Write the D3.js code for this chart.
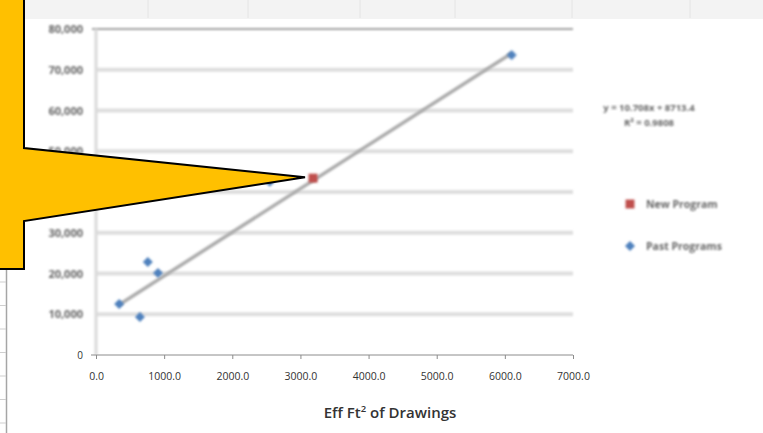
<!DOCTYPE html>
<html>
<head>
<meta charset="utf-8">
<script src="https://cdn.jsdelivr.net/npm/d3@7"></script>
<style>
  html, body { margin: 0; padding: 0; background: #fff; }
  svg { display: block; }
</style>
</head>
<body>
<svg id="chart" width="763" height="433"></svg>
<script>
// ---- data ----
const pastX = [340, 645, 760, 910, 2550, 6100];
const pastY = [12500, 9300, 22800, 20100, 42500, 73600];
const newX  = [3185];
const newY  = [43400];
const trendSlope = 10.708;
const trendIntercept = 8713.4;
const trendLabel = ["y = 10.708x + 8713.4", "R\u00b2 = 0.9808"];
const seriesNames = ["New Program", "Past Programs"];
const xTicks = [0, 1000, 2000, 3000, 4000, 5000, 6000, 7000];
const yTicks = [0, 10000, 20000, 30000, 40000, 50000, 60000, 70000, 80000];
const xTitle = "Eff Ft";

const colors = { past: "#4f81bd", fresh: "#c0504d", trend: "#acacac" };

const svg = d3.select("#chart");
const W = 763, H = 433;
const plot = { left: 96, right: 573, top: 29, bottom: 355 };

const defs = svg.append("defs");
defs.append("filter").attr("id", "soft").attr("x", "-20%").attr("y", "-20%").attr("width", "140%").attr("height", "140%")
  .append("feGaussianBlur").attr("stdDeviation", 0.8);
defs.append("filter").attr("id", "fuzzy").attr("x", "-20%").attr("y", "-50%").attr("width", "140%").attr("height", "200%")
  .append("feGaussianBlur").attr("stdDeviation", 1.3);

// spreadsheet bits behind the chart
svg.append("rect").attr("x", 0).attr("y", 0).attr("width", W).attr("height", 19).attr("fill", "#f3f3f3");
svg.append("line").attr("x1", 0).attr("x2", W).attr("y1", 19.5).attr("y2", 19.5)
  .attr("stroke", "#e2e2e2").attr("stroke-width", 3).attr("filter", "url(#soft)");
[148, 248, 360, 455, 572, 690].forEach(x => {
  svg.append("line").attr("x1", x).attr("x2", x).attr("y1", 0).attr("y2", 18)
    .attr("stroke", "#e4e4e4").attr("stroke-width", 1);
});
svg.append("line").attr("x1", 6.5).attr("x2", 6.5).attr("y1", 262).attr("y2", H)
  .attr("stroke", "#a6a6a6").attr("stroke-width", 1.5);
for (let r = 282; r < H; r += 23.5) {
  svg.append("line").attr("x1", 0).attr("x2", 6).attr("y1", r).attr("y2", r)
    .attr("stroke", "#cfcfcf").attr("stroke-width", 1);
}

// scales
const x = d3.scaleLinear().domain([0, 7000]).range([plot.left, plot.right]);
const y = d3.scaleLinear().domain([0, 80000]).range([plot.bottom, plot.top]);

// gridlines
const grid = svg.append("g").attr("filter", "url(#soft)");
grid.selectAll("line.grid")
  .data(yTicks.filter(d => d > 0 && d < 80000))
  .enter().append("line")
    .attr("x1", plot.left).attr("x2", plot.right)
    .attr("y1", d => y(d)).attr("y2", d => y(d))
    .attr("stroke", "#dedede").attr("stroke-width", 4);
grid.append("line")
  .attr("x1", plot.left - 4).attr("x2", plot.right)
  .attr("y1", y(80000)).attr("y2", y(80000))
  .attr("stroke", "#a3a3a3").attr("stroke-width", 2);
grid.append("line")
  .attr("x1", plot.left).attr("x2", plot.left)
  .attr("y1", plot.top).attr("y2", plot.bottom)
  .attr("stroke", "#dadada").attr("stroke-width", 3);

// y-axis labels (blurry in the source)
const yLab = svg.append("g").attr("filter", "url(#fuzzy)");
yLab.selectAll("text")
  .data(yTicks.filter(d => d > 0))
  .enter().append("text")
    .attr("x", 83).attr("y", d => y(d) + 4)
    .attr("text-anchor", "end")
    .attr("font-family", "Open Sans, sans-serif")
    .attr("font-size", 11).attr("font-weight", 700)
    .attr("fill", "#666")
    .text(d => d3.format(",")(d));
svg.append("text")
  .attr("x", 83).attr("y", y(0) + 4)
  .attr("text-anchor", "end")
  .attr("font-family", "Open Sans, sans-serif").attr("font-size", 10)
  .attr("fill", "#333").text("0");

// x-axis
const xAxis = d3.axisBottom(x).tickValues(xTicks).tickSize(4).tickFormat(d3.format(".1f"));
const xg = svg.append("g")
  .attr("transform", "translate(0," + plot.bottom + ")")
  .call(xAxis);
xg.select(".domain").attr("stroke", "#8c8c8c").attr("d", "M" + (plot.left - 5) + ",0H" + plot.right);
xg.selectAll(".tick line").attr("stroke", "#8c8c8c");
xg.selectAll(".tick text")
  .attr("dy", 0).attr("y", 25)
  .attr("font-family", "Open Sans, sans-serif").attr("font-size", 10.5)
  .attr("fill", "#333");

// x-axis title
const title = svg.append("text")
  .attr("x", 390).attr("y", 418)
  .attr("text-anchor", "middle")
  .attr("font-family", "Open Sans, sans-serif")
  .attr("font-size", 15).attr("font-weight", 600)
  .attr("fill", "#333");
title.append("tspan").text(xTitle);
title.append("tspan").attr("dy", -6).attr("font-size", 9.5).text("2");
title.append("tspan").attr("dy", 6).text(" of Drawings");

// trendline
const trendExtent = d3.extent(pastX);
svg.append("line")
  .attr("x1", x(trendExtent[0])).attr("y1", y(trendSlope * trendExtent[0] + trendIntercept))
  .attr("x2", x(trendExtent[1])).attr("y2", y(trendSlope * trendExtent[1] + trendIntercept))
  .attr("stroke", colors.trend).attr("stroke-width", 3.5)
  .attr("filter", "url(#soft)");

// markers: rotated squares for past programs, squares for the new one
const diamond = d3.symbol().type(d3.symbolSquare).size(50);
const square = d3.symbol().type(d3.symbolSquare).size(80);
const marks = svg.append("g").attr("filter", "url(#soft)");
marks.selectAll("path.past")
  .data(d3.zip(pastX, pastY))
  .enter().append("path")
    .attr("class", "past")
    .attr("transform", d => "translate(" + x(d[0]) + "," + y(d[1]) + ") rotate(45)")
    .attr("d", diamond)
    .attr("fill", colors.past);
marks.selectAll("path.fresh")
  .data(d3.zip(newX, newY))
  .enter().append("path")
    .attr("class", "fresh")
    .attr("transform", d => "translate(" + x(d[0]) + "," + y(d[1]) + ")")
    .attr("d", square)
    .attr("fill", colors.fresh);

// trend equation
const eq = svg.append("g").attr("filter", "url(#fuzzy)");
eq.selectAll("text")
  .data(trendLabel)
  .enter().append("text")
    .attr("x", 649).attr("y", (d, i) => 111 + i * 15)
    .attr("text-anchor", "middle")
    .attr("font-family", "Open Sans, sans-serif")
    .attr("font-size", 9.5).attr("font-weight", 700)
    .attr("fill", "#666")
    .text(d => d);

// legend
const legend = svg.append("g").attr("filter", "url(#fuzzy)");
const legY = [204, 246];
const legColor = [colors.fresh, colors.past];
const legSym = [square, diamond];
const legRot = [0, 45];
seriesNames.forEach((name, i) => {
  legend.append("path")
    .attr("transform", "translate(630," + legY[i] + ") rotate(" + legRot[i] + ")")
    .attr("d", legSym[i])
    .attr("fill", legColor[i]);
  legend.append("text")
    .attr("x", 646).attr("y", legY[i] + 4)
    .attr("font-family", "Open Sans, sans-serif")
    .attr("font-size", 10.5).attr("font-weight", 700)
    .attr("fill", "#666")
    .text(name);
});

// yellow callout pointing at the new program
const tip = [x(newX[0]) - 8, y(newY[0]) - 1];
svg.append("path")
  .attr("d", d3.line()([[-5, -5], [24, -5], [24, 148], tip, [24, 221], [24, 269], [-5, 269]]))
  .attr("fill", "#ffc000")
  .attr("stroke", "#000").attr("stroke-width", 2)
  .attr("stroke-linejoin", "miter");
</script>
</body>
</html>
